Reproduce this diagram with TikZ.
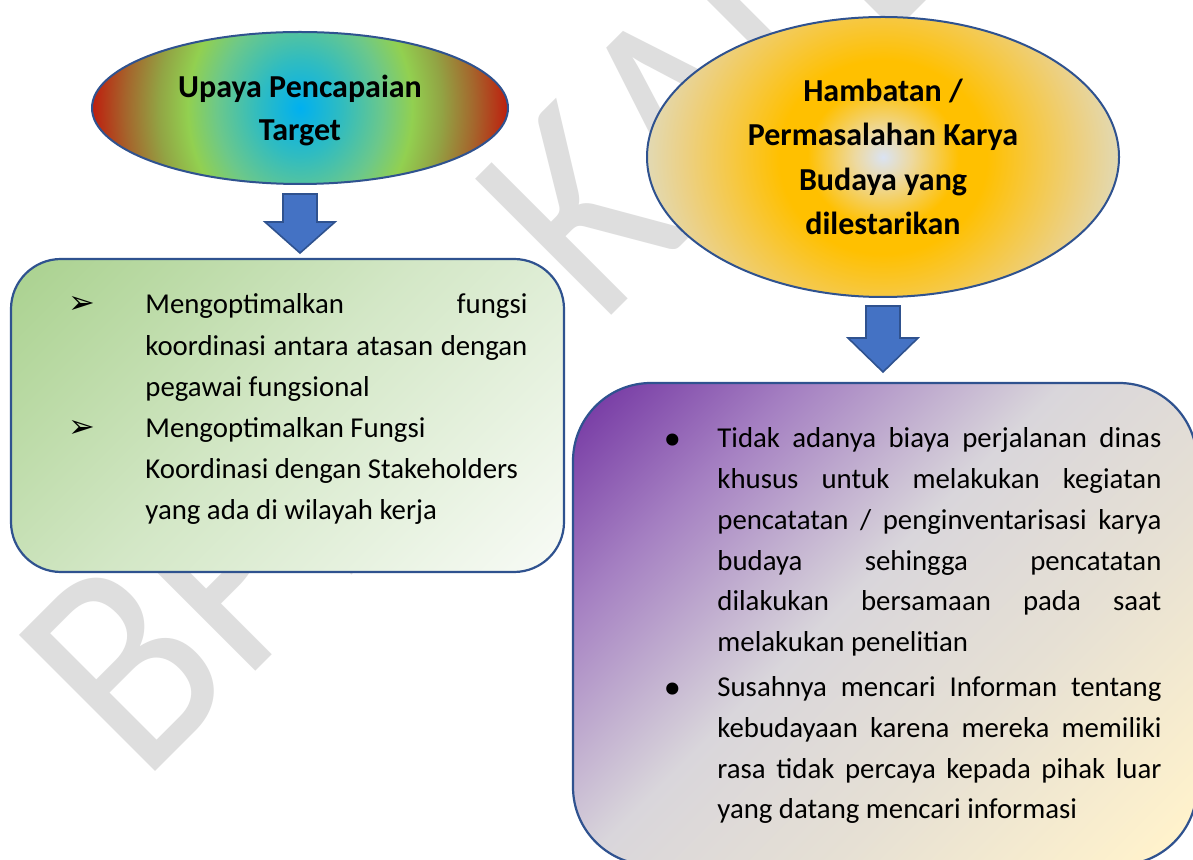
\documentclass[tikz,border=0pt]{standalone}
\usepackage{fontspec}
\setmainfont{Carlito}
\newfontfamily\dingfont{DejaVu Sans}
\usetikzlibrary{shapes.geometric,calc}

% palette
\definecolor{edgeblue}{HTML}{2F528F}
\definecolor{arrowblue}{HTML}{4472C4}
\definecolor{markgray}{HTML}{DEDEDE}
\definecolor{eCyan}{HTML}{00B0F0}
\definecolor{eTeal}{HTML}{30BCC0}
\definecolor{eMint}{HTML}{6CC88A}
\definecolor{eGreen}{HTML}{92D050}
\definecolor{eOlive}{HTML}{92A444}
\definecolor{eBrown}{HTML}{A5652C}
\definecolor{eRed}{HTML}{BE1E0E}
\definecolor{yPale}{HTML}{DAE3F3}
\definecolor{yCream}{HTML}{EDD9A0}
\definecolor{yGold}{HTML}{FFC000}
\definecolor{yWarm}{HTML}{F6C843}
\definecolor{ySand}{HTML}{ECD083}
\definecolor{yBeige}{HTML}{E2D9B3}
\definecolor{gA}{HTML}{A9D18E}
\definecolor{gB}{HTML}{D3E7C6}
\definecolor{gC}{HTML}{F8FBF6}
\definecolor{pA}{HTML}{7030A0}
\definecolor{pB}{HTML}{A580C2}
\definecolor{pC}{HTML}{D9D6DB}
\definecolor{pD}{HTML}{E6E0D4}
\definecolor{pE}{HTML}{FFF2CC}

% fills
\pgfdeclareradialshading{goalglow}{\pgfpoint{0bp}{0bp}}{%
  color(0bp)=(eCyan); color(5bp)=(eTeal); color(10bp)=(eMint);
  color(13.5bp)=(eGreen); color(17bp)=(eOlive); color(21bp)=(eBrown);
  color(25bp)=(eRed); color(50bp)=(eRed)}
\pgfdeclareradialshading{issueglow}{\pgfpoint{0bp}{0bp}}{%
  color(0bp)=(yPale); color(3bp)=(yCream); color(8bp)=(yGold);
  color(11bp)=(yGold); color(16bp)=(yWarm); color(21bp)=(ySand);
  color(25bp)=(yBeige); color(50bp)=(yBeige)}
% diagonal washes: corners of a box fall at 14.6bp and 85.4bp
\pgfdeclarehorizontalshading{greenwash}{100bp}{%
  color(0bp)=(gA); color(14.6bp)=(gA); color(48bp)=(gB);
  color(85bp)=(gC); color(100bp)=(gC)}
\pgfdeclarehorizontalshading{purplewash}{100bp}{%
  color(0bp)=(pA); color(14.6bp)=(pA); color(29bp)=(pB); color(46bp)=(pC);
  color(62bp)=(pD); color(82bp)=(pE); color(100bp)=(pE)}

% list lines: marker column + justified or ragged text
\newlength\markw
\newlength\textw
\newcommand\jline[2]{\hbox{\makebox[\markw][l]{#1}\makebox[\textw][s]{#2}}}
\newcommand\rline[2]{\hbox{\makebox[\markw][l]{#1}\makebox[\textw][l]{#2}}}
\newcommand\arrowmark{\hspace*{-2.5pt}{\dingfont\fontsize{16pt}{16pt}\selectfont ➢}}
\newcommand\dotmark{\makebox[10pt][c]{\raisebox{-3.9pt}{\dingfont\fontsize{20.8pt}{20.8pt}\selectfont •}}}

\tikzset{
  oval/.style={ellipse, draw=edgeblue, line width=1pt, inner sep=0pt,
    align=center, text=black},
  panel/.style={rectangle, draw=edgeblue, line width=1.1pt, inner sep=0pt,
    shade, shading angle=-45},
  blockarrow/.style={fill=arrowblue, draw=edgeblue, line width=0.8pt,
    line join=miter},
  listtext/.style={anchor=base west, inner sep=0pt,
    font=\fontsize{14.4pt}{20.3pt}\selectfont},
  markstyle/.style={anchor=base west, inner sep=0pt, text=markgray,
    font=\fontsize{150pt}{150pt}\selectfont, rotate=45, xscale=0.873}
}

\begin{document}
\begin{tikzpicture}[x=0.5pt, y=-0.5pt]
\path[use as bounding box] (0,0) rectangle (1193,860);
\clip (0,0) rectangle (1193,860);
\fill[white] (0,0) rectangle (1193,860);

% watermark behind everything
\node[markstyle] (mark) at (142,785) {BPNB KALBAR};

% headings
\node[oval, minimum width=208pt, minimum height=76pt,
  font=\bfseries\fontsize{16pt}{21.5pt}\selectfont,
  path picture={\shade[shading=goalglow]
    ([xshift=-104pt,yshift=-120.5pt]path picture bounding box.center) rectangle
    ([xshift=104pt,yshift=120.5pt]path picture bounding box.center);}]
  (goal) at (300,108) {\rule{0pt}{14pt}Upaya Pencapaian\\Target};

\node[oval, minimum width=236pt, minimum height=140pt,
  font=\bfseries\fontsize{16pt}{22.2pt}\selectfont,
  path picture={\shade[shading=issueglow]
    ([xshift=-118pt,yshift=-110pt]path picture bounding box.center) rectangle
    ([xshift=118pt,yshift=110pt]path picture bounding box.center);}]
  (problem) at (883,157) {Hambatan /\\Permasalahan Karya\\Budaya yang\\dilestarikan};

% content panels
\node[panel, shading=greenwash, minimum width=276.5pt, minimum height=156.5pt,
  rounded corners=25pt] (effort) at (287.5,415.5) {};
\node[panel, shading=purplewash, minimum width=312pt, minimum height=241pt,
  rounded corners=39pt] (issues) at (885,624) {};

% block arrows from heading to panel
\draw[blockarrow] ($(goal.south)+(-17,9)$) -- ++(34,0) -- ++(0,28)
  -- ++(18,0) -- ++(-35,31) -- ++(-35,-31) -- ++(18,0) -- cycle;
\draw[blockarrow] ($(problem.south)+(-17,8)$) -- ++(34,0) -- ++(0,32)
  -- ++(18,0) -- ++(-35,34) -- ++(-35,-34) -- ++(18,0) -- cycle;

% panel texts
\node[listtext] (effortlist) at (73,314) {%
  \setlength\markw{36pt}\setlength\textw{191pt}%
  \vtop{\baselineskip=20.6pt
    \jline{\arrowmark}{Mengoptimalkan fungsi}
    \jline{}{koordinasi antara atasan dengan}
    \rline{}{pegawai fungsional}
    \rline{\arrowmark}{Mengoptimalkan Fungsi}
    \rline{}{Koordinasi dengan Stakeholders}
    \rline{}{yang ada di wilayah kerja}}};

\node[listtext] (issuelist) at (662,448) {%
  \setlength\markw{27.5pt}\setlength\textw{222pt}%
  \vtop{\baselineskip=20.35pt
    \jline{\dotmark}{Tidak adanya biaya perjalanan dinas}
    \jline{}{khusus untuk melakukan kegiatan}
    \jline{}{pencatatan / penginventarisasi karya}
    \jline{}{budaya sehingga pencatatan}
    \jline{}{dilakukan bersamaan pada saat}
    \rline{}{melakukan penelitian}
    \vskip 2.2pt
    \jline{\dotmark}{Susahnya mencari Informan tentang}
    \jline{}{kebudayaan karena mereka memiliki}
    \jline{}{rasa tidak percaya kepada pihak luar}
    \rline{}{yang datang mencari informasi}}};
\end{tikzpicture}
\end{document}
